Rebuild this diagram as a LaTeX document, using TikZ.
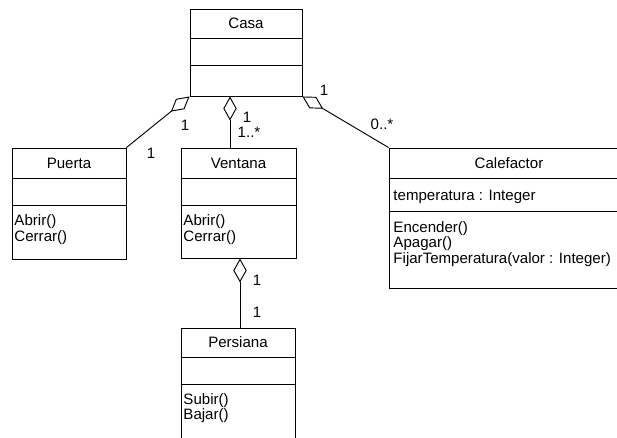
\documentclass[tikz,border=0pt]{standalone}
\usepackage{fontspec}
\setmainfont{Liberation Sans}
\usetikzlibrary{fit,shadows,arrows.meta}

\begin{document}
\begin{tikzpicture}[x=0.75pt,y=-0.75pt,line width=0.7pt,font=\fontsize{11.3}{11.6}\selectfont]
            \tikzstyle{class}=[draw=black,fill=white,inner sep=0pt,drop shadow={shadow xshift=1.1pt,shadow yshift=-1.1pt,opacity=0.35}]
            \tikzstyle{clsname}=[anchor=base,inner sep=0pt]
            \tikzstyle{member}=[anchor=base west,inner sep=0pt]
            \tikzstyle{multlabel}=[inner sep=0pt]
            \tikzstyle{agg}=[{Diamond[open,length=18pt,width=10pt]}-]

                \useasboundingbox (0,0) rectangle (617,437);
                \clip (0,0) rectangle (617,437);

                \node[class,fit={(190,9) (302,96)}] (casa) {};
                \node[class,fit={(12,148) (126,259)}] (puerta) {};
                \node[class,fit={(181,148) (296,258)}] (ventana) {};
                \node[class,fit={(389,148) (629,288)}] (calefactor) {};
                \node[class,fit={(181,328) (295,450)}] (persiana) {};

                \foreach \c/\a/\b in {casa/38/65, puerta/178/205, ventana/178/205, calefactor/178/211, persiana/357/384}{
                    \draw (\c.west |- 0,\a) -- (\c.east |- 0,\a);
                    \draw (\c.west |- 0,\b) -- (\c.east |- 0,\b);
                }

                \node[clsname] (casa-name) at (246,28) {Casa};
                \node[clsname] (puerta-name) at (69,168) {Puerta};
                \node[clsname] (ventana-name) at (238.5,168) {Ventana};
                \node[clsname] (calefactor-name) at (509,168) {Calefactor};
                \node[clsname] (persiana-name) at (238,347) {Persiana};

                \node[member] (calefactor-attr) at (393,200) {temperatura : Integer};
                \foreach \txt [count=\i] in {Abrir(), Cerrar()}
                    \node[member] (puerta-op\i) at (14,{210+15.5*\i}) {\txt};
                \foreach \txt [count=\i] in {Abrir(), Cerrar()}
                    \node[member] (ventana-op\i) at (183,{210+15.5*\i}) {\txt};
                \foreach \txt [count=\i] in {Encender(), Apagar(), FijarTemperatura(valor : Integer)}
                    \node[member] (calefactor-op\i) at (393,{216.5+15.5*\i}) {\txt};
                \foreach \txt [count=\i] in {Subir(), Bajar()}
                    \node[member] (persiana-op\i) at (183,{389+15*\i}) {\txt};

                \draw[agg] (casa.south west) -- (puerta.north east);
                \draw[agg] (casa.south east) -- (calefactor.north west);
                \draw[agg] (casa.south -| 230,0) -- (ventana.north -| 230,0);
                \draw[agg] (ventana.south -| 240,0) -- (persiana.north -| 240,0);

                \foreach \n/\x/\y/\t in {m1/185/125/1, m2/151/153/1, m3/247/117/1, m4/249/132/{1..*}, m5/324/90/1, m6/382/124/{0..*}, m7/257/280/1, m8/257/312/1}
                    \node[multlabel] (\n) at (\x,\y) {\t};
        \end{tikzpicture}
\end{document}
